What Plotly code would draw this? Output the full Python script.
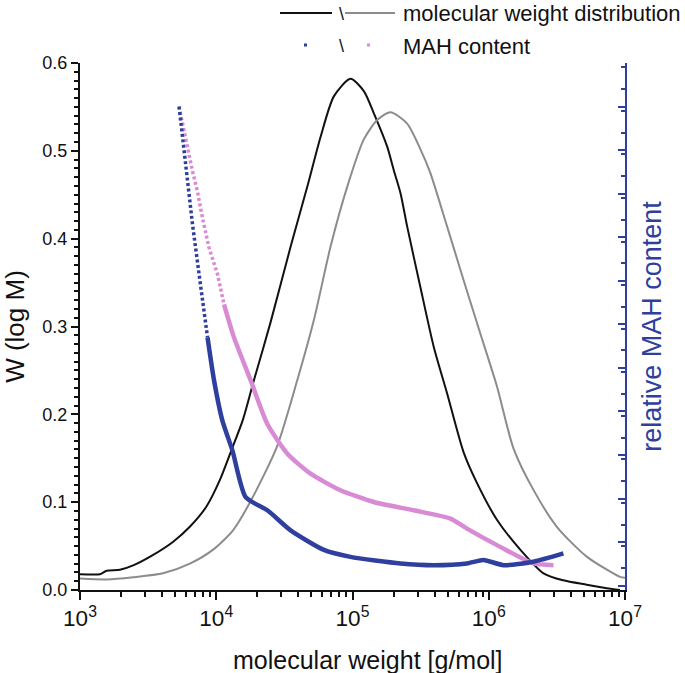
import plotly.graph_objects as go

# ---- data ----
# molecular weight distribution, sample 1 (black)
mwd1_logm = [3.000, 3.147, 3.196, 3.293, 3.390, 3.537, 3.684, 3.806, 3.928, 4.026, 4.111, 4.196,
             4.277, 4.399, 4.546, 4.668, 4.766, 4.863, 4.985, 5.083, 5.156, 5.254, 5.303,
             5.352, 5.401, 5.498, 5.596, 5.694, 5.815, 5.913, 6.060, 6.231, 6.402, 6.546,
             6.719, 6.866, 6.963]
mwd1_w = [0.018, 0.018, 0.022, 0.023, 0.028, 0.040, 0.055, 0.072, 0.095, 0.125, 0.159, 0.194,
          0.239, 0.305, 0.391, 0.459, 0.516, 0.562, 0.582, 0.568, 0.543, 0.505, 0.478,
          0.452, 0.414, 0.345, 0.277, 0.224, 0.157, 0.122, 0.080, 0.046, 0.019, 0.011,
          0.006, 0.002, 0.000]

# molecular weight distribution, sample 2 (grey)
mwd2_logm = [3.000, 3.196, 3.390, 3.610, 3.806, 3.977, 4.123, 4.245, 4.445, 4.595, 4.716, 4.839,
             4.961, 5.083, 5.181, 5.278, 5.401, 5.498, 5.571, 5.694, 5.815, 5.938, 6.060,
             6.182, 6.328, 6.500, 6.719, 6.963, 7.000]
mwd2_w = [0.013, 0.012, 0.0145, 0.019, 0.030, 0.046, 0.068, 0.099, 0.163, 0.239, 0.307, 0.391,
          0.459, 0.513, 0.535, 0.544, 0.531, 0.502, 0.475, 0.414, 0.353, 0.292, 0.232,
          0.161, 0.114, 0.072, 0.038, 0.015, 0.014]

# relative MAH content (right axis, arbitrary units), sample 1 (blue)
mah1_logm = [3.727, 3.764, 3.789, 3.826, 3.874, 3.923, 3.936, 3.984, 4.045, 4.119, 4.216, 4.375,
             4.546, 4.790, 4.985, 5.352, 5.596, 5.840, 5.962, 6.108, 6.328, 6.548]
mah1_val = [11.10, 10.07, 9.31, 8.39, 7.25, 6.10, 5.80, 4.81, 3.89, 3.20, 2.13, 1.83,
            1.37, 0.92, 0.76, 0.61, 0.57, 0.61, 0.69, 0.57, 0.65, 0.84]
mah1_split = 6

# relative MAH content, sample 2 (pink)
mah2_logm = [3.727, 3.789, 3.826, 3.862, 3.899, 3.947, 4.009, 4.057, 4.130, 4.253, 4.375, 4.522,
             4.692, 4.912, 5.156, 5.449, 5.718, 5.840, 6.084, 6.328, 6.475]
mah2_val = [11.10, 10.14, 9.61, 9.15, 8.54, 7.86, 7.25, 6.56, 5.80, 4.81, 3.81, 3.13,
            2.67, 2.29, 2.02, 1.83, 1.64, 1.41, 0.99, 0.61, 0.57]
mah2_split = 7

x_title = "molecular weight [g/mol]"
y_title = "W (log M)"
y2_title = "relative MAH content"
legend_labels = ["molecular weight distribution", "MAH content"]

# ---- styles ----
BLACK = "#111111"
GREY = "#8c8c8c"
BLUE = "#2e3f9e"
PINK = "#d98ad4"
FONT = "Liberation Sans, Arial, sans-serif"

W, H = 685, 673
PX0, PX1, PY0, PY1 = 80, 625, 63, 590          # plot area in pixels
L, T, R, B = PX0, PY0, W - PX1, H - PY1
pw, ph = PX1 - PX0, PY1 - PY0


def px_x(p):
    return (p - PX0) / pw


def px_y(p):
    return (PY1 - p) / ph


def tenpow(a):
    return [10 ** v for v in a]


fig = go.Figure()
fig.add_trace(go.Scatter(x=tenpow(mwd1_logm), y=mwd1_w, mode="lines",
                         line=dict(color=BLACK, width=2, shape="spline", smoothing=0.7),
                         showlegend=False))
fig.add_trace(go.Scatter(x=tenpow(mwd2_logm), y=mwd2_w, mode="lines",
                         line=dict(color=GREY, width=2, shape="spline", smoothing=0.7),
                         showlegend=False))

# MAH: sparse (dotted) steep part and dense (solid) part
fig.add_trace(go.Scatter(x=tenpow(mah2_logm[:mah2_split + 1]), y=mah2_val[:mah2_split + 1],
                         mode="lines", yaxis="y2",
                         line=dict(color=PINK, width=3.5, dash="3px,2.5px"), showlegend=False))
fig.add_trace(go.Scatter(x=tenpow(mah2_logm[mah2_split:]), y=mah2_val[mah2_split:],
                         mode="lines", yaxis="y2",
                         line=dict(color=PINK, width=4.5, shape="spline", smoothing=0.6),
                         showlegend=False))
fig.add_trace(go.Scatter(x=tenpow(mah1_logm[:mah1_split + 1]), y=mah1_val[:mah1_split + 1],
                         mode="lines", yaxis="y2",
                         line=dict(color=BLUE, width=3.5, dash="3px,2.5px"), showlegend=False))
fig.add_trace(go.Scatter(x=tenpow(mah1_logm[mah1_split:]), y=mah1_val[mah1_split:],
                         mode="lines", yaxis="y2",
                         line=dict(color=BLUE, width=4.5, shape="spline", smoothing=0.6),
                         showlegend=False))

# ---- custom legend ----
shapes = [
    dict(type="line", xref="paper", yref="paper", x0=px_x(280), x1=px_x(332),
         y0=px_y(13), y1=px_y(13), line=dict(color=BLACK, width=2)),
    dict(type="line", xref="paper", yref="paper", x0=px_x(345), x1=px_x(395),
         y0=px_y(13), y1=px_y(13), line=dict(color=GREY, width=2)),
    dict(type="rect", xref="paper", yref="paper", x0=px_x(304), x1=px_x(307),
         y0=px_y(46.5), y1=px_y(43.5), line=dict(width=0), fillcolor=BLUE),
    dict(type="rect", xref="paper", yref="paper", x0=px_x(367), x1=px_x(370),
         y0=px_y(46.5), y1=px_y(43.5), line=dict(width=0), fillcolor=PINK),
]
annotations = [
    dict(text="\\", xref="paper", yref="paper", x=px_x(341), y=px_y(14), showarrow=False,
         xanchor="center", yanchor="middle", font=dict(family=FONT, size=18, color=BLACK)),
    dict(text="\\", xref="paper", yref="paper", x=px_x(341), y=px_y(46), showarrow=False,
         xanchor="center", yanchor="middle", font=dict(family=FONT, size=18, color=BLACK)),
    dict(text=legend_labels[0], xref="paper", yref="paper", x=px_x(401), y=px_y(14),
         showarrow=False, xanchor="left", yanchor="middle",
         font=dict(family=FONT, size=22, color=BLACK)),
    dict(text=legend_labels[1], xref="paper", yref="paper", x=px_x(401), y=px_y(46),
         showarrow=False, xanchor="left", yanchor="middle",
         font=dict(family=FONT, size=22, color=BLACK)),
    # x-axis title (sits right of the plot centre in the original)
    dict(text=x_title, xref="paper", yref="paper", x=px_x(368), y=px_y(660),
         showarrow=False, xanchor="center", yanchor="middle",
         font=dict(family=FONT, size=25, color=BLACK)),
]

fig.update_layout(
    width=W, height=H,
    margin=dict(l=L, r=R, t=T, b=B, autoexpand=False),
    paper_bgcolor="white", plot_bgcolor="white",
    font=dict(family=FONT, color=BLACK, size=18),
    showlegend=False,
    shapes=shapes, annotations=annotations,
    xaxis=dict(type="log", range=[3, 7], dtick=1, exponentformat="power",
               showgrid=False, zeroline=False, showline=True, linecolor=BLACK, linewidth=2,
               ticks="outside", ticklen=8, tickwidth=2, tickcolor=BLACK,
               tickfont=dict(size=18, family=FONT),
               minor=dict(dtick="D1", ticks="outside", ticklen=5, tickwidth=1.5,
                          tickcolor=BLACK, showgrid=False)),
    yaxis=dict(range=[0, 0.6], dtick=0.1, tickformat=".1f",
               showgrid=False, zeroline=False, showline=True, linecolor=BLACK, linewidth=2,
               ticks="outside", ticklen=7, tickwidth=2, tickcolor=BLACK,
               tickfont=dict(size=18, family=FONT),
               minor=dict(dtick=0.01, ticks="outside", ticklen=4, tickwidth=1.5,
                          tickcolor=BLACK, showgrid=False),
               title=dict(text=y_title, font=dict(size=26, family=FONT), standoff=10)),
    yaxis2=dict(overlaying="y", side="right", range=[0, 12.1], tick0=0.1, dtick=1,
                showgrid=False, zeroline=False, showline=True, linecolor=BLUE, linewidth=2,
                showticklabels=False,
                ticks="inside", ticklen=7, tickwidth=2, tickcolor=BLUE,
                minor=dict(dtick=0.5, ticks="inside", ticklen=4, tickwidth=2,
                           tickcolor=BLUE, showgrid=False),
                title=dict(text=y2_title, font=dict(size=27, family=FONT, color=BLUE),
                           standoff=16)),
)

fig.write_html("out.html",
               config={"displayModeBar": False},
               post_script="document.body.style.margin='0px';document.body.style.padding='0px';")
